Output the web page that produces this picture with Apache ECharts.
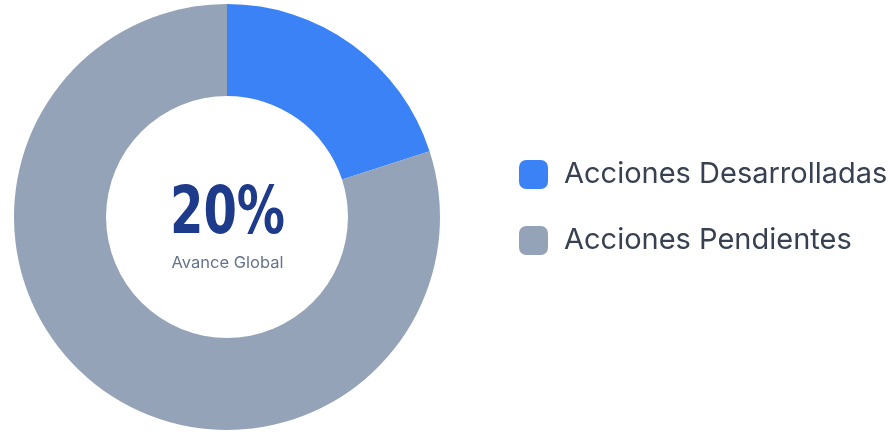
<!DOCTYPE html>
<html><head><meta charset="utf-8">
<script src="https://cdn.jsdelivr.net/npm/echarts@6/dist/echarts.min.js"></script>
<style>html,body{margin:0;padding:0;background:#fff}#c{width:894px;height:434px}</style>
</head><body><div id="c"></div>
<script>
const categories = ['Acciones Desarrolladas', 'Acciones Pendientes'];
const values = [20, 80];
const colors = ['#3b82f6', '#94a3b8'];
const centerValue = '20%';
const centerLabel = 'Avance Global';

const chart = echarts.init(document.getElementById('c'), null, {renderer: 'canvas'});
chart.setOption({
  animation: false,
  backgroundColor: '#ffffff',
  legend: {
    orient: 'vertical', left: 514, top: 155,
    itemWidth: 29, itemHeight: 29, itemGap: 37,
    icon: 'roundRect',
    data: categories,
    textStyle: {fontFamily: 'Inter', fontSize: 29, color: '#374151', padding: [0, 0, 0, 11]}
  },
  graphic: [
    {
      type: 'text', x: 227.5, y: 216, z: 10, scaleX: 0.81, silent: true,
      style: {text: centerValue, fill: '#1e3a8a', font: "bold 66px 'DejaVu Sans Condensed', 'DejaVu Sans', sans-serif", textAlign: 'center', textVerticalAlign: 'middle'}
    },
    {
      type: 'text', x: 227.5, y: 263, z: 10, silent: true,
      style: {text: centerLabel, fill: '#64748b', font: "16.5px Inter", textAlign: 'center', textVerticalAlign: 'middle'}
    }
  ],
  series: [
    {
      type: 'pie', silent: true, center: [227, 217], radius: [0, 121],
      z: 1, labelLine: {show: false}, label: {show: false},
      itemStyle: {color: '#ffffff', shadowBlur: 8, shadowColor: 'rgba(15,23,42,0.18)'},
      data: [{value: 1, name: ''}], legendHoverLink: false
    },
    {
      type: 'pie', center: [227, 217], radius: [121, 213], startAngle: 90, clockwise: true,
      z: 2, label: {show: false}, labelLine: {show: false},
      emphasis: {disabled: true},
      data: categories.map((n, i) => ({name: n, value: values[i], itemStyle: {color: colors[i]}}))
    }
  ]
});
</script></body></html>
